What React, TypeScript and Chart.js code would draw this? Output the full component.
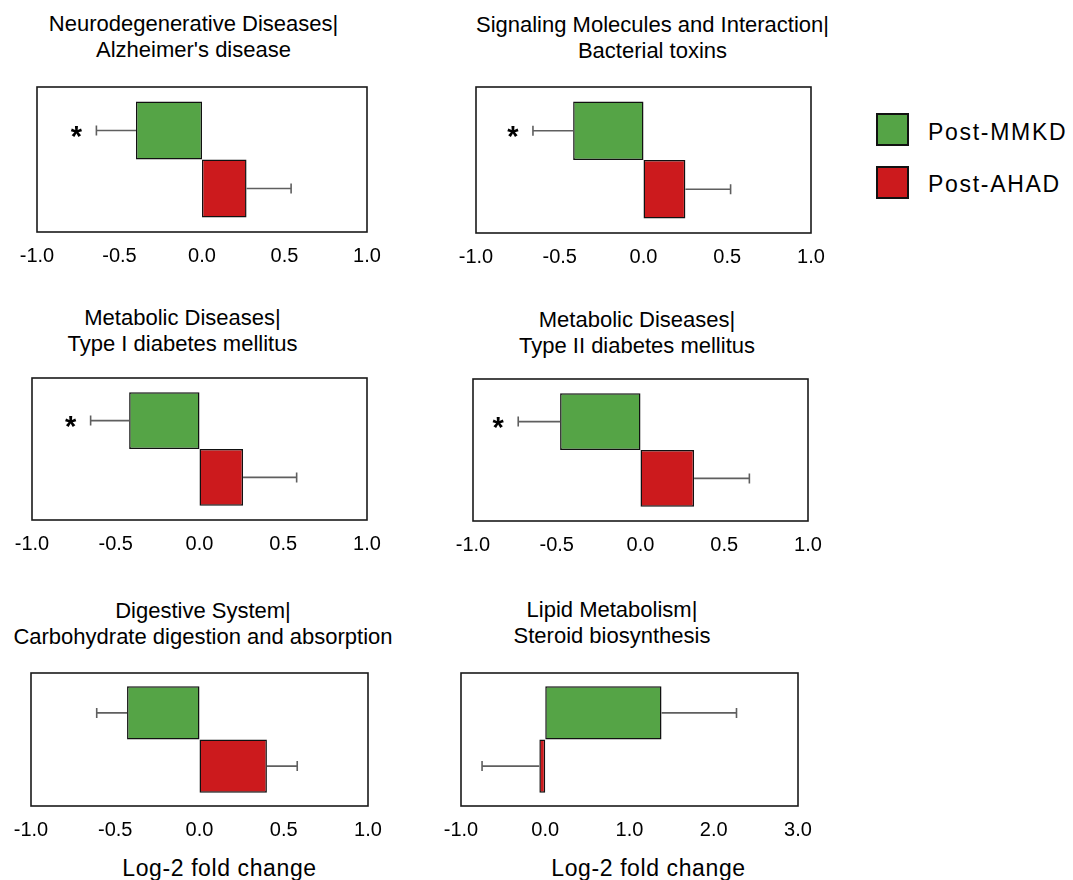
import React, { useEffect, useRef } from "react";
import { Chart, registerables } from "chart.js";

Chart.register(...registerables);

// ---------------- data ----------------
const TITLE_LINE1 = [
  "Neurodegenerative Diseases|",
  "Signaling Molecules and Interaction|",
  "Metabolic Diseases|",
  "Metabolic Diseases|",
  "Digestive System|",
  "Lipid Metabolism|",
];
const TITLE_LINE2 = [
  "Alzheimer's disease",
  "Bacterial toxins",
  "Type I diabetes mellitus",
  "Type II diabetes mellitus",
  "Carbohydrate digestion and absorption",
  "Steroid biosynthesis",
];
const SERIES = ["Post-MMKD", "Post-AHAD"];
const MMKD = [-0.4, -0.42, -0.42, -0.48, -0.43, 1.38];
const MMKD_ERR = [0.24, 0.24, 0.23, 0.25, 0.18, 0.89];
const AHAD = [0.27, 0.25, 0.26, 0.32, 0.4, -0.07];
const AHAD_ERR = [0.27, 0.27, 0.32, 0.33, 0.18, 0.68];
const SIGNIFICANT = [true, true, true, true, false, false];
const AXIS_MIN = [-1, -1, -1, -1, -1, -1];
const AXIS_MAX = [1, 1, 1, 1, 1, 3];
const AXIS_STEP = [0.5, 0.5, 0.5, 0.5, 0.5, 1];
const AXIS_TITLE = "Log-2 fold change";
const AXIS_TITLE_PANELS = [4, 5];

// ---------------- layout & style ----------------
const FONT = "'Liberation Sans', Arial, Helvetica, sans-serif";
const GREEN = "#55A446";
const RED = "#CC1A1D";
const EDGE = "#111111";
const PAD_X = 30;
const PAD_T = 10;
const AXIS_H = 40;

const BOXES = [
  { left: 37, top: 87, w: 330, h: 145 },
  { left: 476, top: 87, w: 335, h: 146 },
  { left: 32, top: 378, w: 335, h: 142 },
  { left: 473, top: 379, w: 335, h: 142 },
  { left: 31, top: 673, w: 337, h: 133 },
  { left: 461, top: 673, w: 337, h: 133 },
];
const TITLE_POS = [
  { cx: 193.5, top: 10.5 },
  { cx: 652.5, top: 11.5 },
  { cx: 182.5, top: 305 },
  { cx: 637, top: 306.5 },
  { cx: 203, top: 598 },
  { cx: 612, top: 596.5 },
];
const AXIS_TITLE_POS = [
  { cx: 219.5, top: 855 },
  { cx: 648.5, top: 855 },
];

const decorPlugin = {
  id: "panelDecor",
  afterDatasetsDraw(chart: any, _args: any, opts: any) {
    const { ctx, chartArea: a } = chart;
    const x = chart.scales.x;
    ctx.save();
    let sigX = 0;
    let sigY = 0;
    chart.data.datasets.forEach((ds: any, di: number) => {
      const meta = chart.getDatasetMeta(di);
      const bar = meta.data[0];
      const v = ds.data[0];
      const e = opts.errors[di];
      const end = v + (v < 0 ? -e : e);
      const x0 = x.getPixelForValue(v);
      const x1 = x.getPixelForValue(end);
      const y = bar.y;
      ctx.strokeStyle = "#5f5f5f";
      ctx.lineWidth = 1.6;
      ctx.beginPath();
      ctx.moveTo(x0, y);
      ctx.lineTo(x1, y);
      ctx.moveTo(x1, y - 5);
      ctx.lineTo(x1, y + 5);
      ctx.stroke();
      if (di === 0) {
        sigX = x1;
        sigY = y;
      }
    });
    if (opts.sig) {
      ctx.fillStyle = "#000";
      ctx.font = `bold 29px ${FONT}`;
      ctx.textAlign = "center";
      ctx.textBaseline = "middle";
      ctx.fillText("*", sigX - 20, sigY + 7);
    }
    ctx.strokeStyle = "#1a1a1a";
    ctx.lineWidth = 1.6;
    ctx.strokeRect(a.left, a.top, a.right - a.left, a.bottom - a.top);
    ctx.restore();
  },
};

function Panel({ i }: { i: number }) {
  const ref = useRef<HTMLCanvasElement>(null);
  const b = BOXES[i];
  const W = b.w + 2 * PAD_X;
  const H = b.h + PAD_T + AXIS_H;
  useEffect(() => {
    const chart = new Chart(ref.current as HTMLCanvasElement, {
      type: "bar",
      data: {
        labels: [TITLE_LINE2[i]],
        datasets: [
          {
            label: SERIES[0],
            data: [MMKD[i]],
            backgroundColor: GREEN,
            borderColor: EDGE,
            borderWidth: 1.5,
            borderSkipped: false,
          },
          {
            label: SERIES[1],
            data: [AHAD[i]],
            backgroundColor: RED,
            borderColor: EDGE,
            borderWidth: 1.5,
            borderSkipped: false,
          },
        ],
      },
      options: {
        indexAxis: "y",
        responsive: false,
        animation: false,
        events: [],
        layout: { padding: { left: PAD_X, right: PAD_X, top: PAD_T, bottom: 0 } },
        datasets: { bar: { categoryPercentage: 0.8, barPercentage: 1 } },
        scales: {
          x: {
            type: "linear",
            min: AXIS_MIN[i],
            max: AXIS_MAX[i],
            ticks: {
              stepSize: AXIS_STEP[i],
              callback: (v: any) => Number(v).toFixed(1),
              color: "#000",
              font: { family: FONT, size: 20 },
              padding: 12,
              autoSkip: false,
              maxRotation: 0,
            },
            grid: { display: false, drawTicks: false },
            border: { display: false },
            afterFit: (s: any) => {
              s.height = AXIS_H;
            },
          },
          y: { display: false },
        },
        plugins: {
          legend: { display: false },
          tooltip: { enabled: false },
          title: { display: false },
          panelDecor: { errors: [MMKD_ERR[i], AHAD_ERR[i]], sig: SIGNIFICANT[i] },
        } as any,
      } as any,
      plugins: [decorPlugin],
    });
    return () => chart.destroy();
  }, [i]);
  return (
    <canvas
      ref={ref}
      width={W}
      height={H}
      style={{ position: "absolute", left: b.left - PAD_X, top: b.top - PAD_T, width: W, height: H }}
    />
  );
}

export default function App() {
  const titleStyle = (i: number): React.CSSProperties => ({
    position: "absolute",
    left: TITLE_POS[i].cx - 260,
    top: TITLE_POS[i].top,
    width: 520,
    textAlign: "center",
    fontSize: 22,
    lineHeight: "26px",
    color: "#000",
    whiteSpace: "nowrap",
  });
  return (
    <div
      style={{
        position: "absolute",
        left: 0,
        top: 0,
        width: 1073,
        height: 880,
        background: "#fff",
        fontFamily: FONT,
        overflow: "hidden",
      }}
    >
      {TITLE_LINE1.map((t, i) => (
        <div key={"t" + i} style={titleStyle(i)}>
          {t}
          <br />
          {TITLE_LINE2[i]}
        </div>
      ))}
      {BOXES.map((_, i) => (
        <Panel key={"p" + i} i={i} />
      ))}
      {AXIS_TITLE_PANELS.map((p, k) => (
        <div
          key={"ax" + p}
          style={{
            position: "absolute",
            left: AXIS_TITLE_POS[k].cx - 150,
            top: AXIS_TITLE_POS[k].top,
            width: 300,
            textAlign: "center",
            fontSize: 23,
            lineHeight: "26px",
            letterSpacing: "0.6px",
            color: "#000",
          }}
        >
          {AXIS_TITLE}
        </div>
      ))}
      {SERIES.map((s, k) => (
        <div key={"lg" + k}>
          <div
            style={{
              position: "absolute",
              left: 876,
              top: k === 0 ? 113 : 165.5,
              width: 33,
              height: 33,
              boxSizing: "border-box",
              border: "2px solid #111",
              background: k === 0 ? GREEN : RED,
            }}
          />
          <div
            style={{
              position: "absolute",
              left: 928,
              top: k === 0 ? 119 : 170.5,
              fontSize: 23,
              lineHeight: "26px",
              letterSpacing: "1.7px",
              color: "#000",
              whiteSpace: "nowrap",
            }}
          >
            {s}
          </div>
        </div>
      ))}
    </div>
  );
}
